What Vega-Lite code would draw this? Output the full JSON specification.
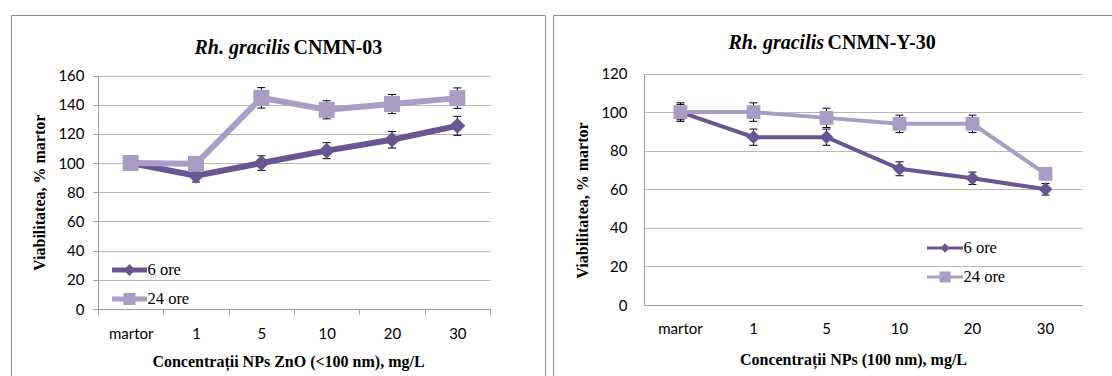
{
  "$schema": "https://vega.github.io/schema/vega-lite/v6.json",
  "background": "white",
  "padding": {"left": 10, "top": 14, "right": 0, "bottom": 0},
  "spacing": 6,
  "config": {
    "view": {"stroke": "#8d8d8d", "strokeWidth": 1},
    "axis": {"labelFont": "Lato", "labelFontSize": 15, "labelColor": "#000", "titleFont": "Liberation Serif", "titleFontSize": 16, "titleFontWeight": "bold", "titleColor": "#000", "domainColor": "#9d9d9d", "tickColor": "#9d9d9d", "gridColor": "#b9b9b9", "labelAngle": 0},
    "legend": {"labelFont": "Liberation Serif", "labelFontSize": 16.5, "labelColor": "#000", "padding": 0, "symbolOpacity": 1}
  },
  "datasets": {
    "left": [
      {"cat": "martor", "series": "6 ore", "value": 100, "lo": 95, "hi": 105},
      {"cat": "1", "series": "6 ore", "value": 91.3, "lo": 87, "hi": 96},
      {"cat": "5", "series": "6 ore", "value": 100, "lo": 95, "hi": 105},
      {"cat": "10", "series": "6 ore", "value": 108.5, "lo": 103, "hi": 114},
      {"cat": "20", "series": "6 ore", "value": 116, "lo": 110.3, "hi": 121.7},
      {"cat": "30", "series": "6 ore", "value": 125.5, "lo": 119, "hi": 132},
      {"cat": "martor", "series": "24 ore", "value": 100, "lo": 95, "hi": 105},
      {"cat": "1", "series": "24 ore", "value": 99.5, "lo": 95, "hi": 104},
      {"cat": "5", "series": "24 ore", "value": 144.7, "lo": 137.7, "hi": 151.7},
      {"cat": "10", "series": "24 ore", "value": 136.5, "lo": 130.3, "hi": 142.7},
      {"cat": "20", "series": "24 ore", "value": 140.5, "lo": 134, "hi": 147},
      {"cat": "30", "series": "24 ore", "value": 144.5, "lo": 137.5, "hi": 151.5}
    ],
    "right": [
      {"cat": "martor", "series": "6 ore", "value": 100, "lo": 96, "hi": 104},
      {"cat": "1", "series": "6 ore", "value": 87, "lo": 82.8, "hi": 91.2},
      {"cat": "5", "series": "6 ore", "value": 87, "lo": 82.8, "hi": 91.2},
      {"cat": "10", "series": "6 ore", "value": 70.6, "lo": 67, "hi": 74.2},
      {"cat": "20", "series": "6 ore", "value": 65.7, "lo": 62.5, "hi": 68.9},
      {"cat": "30", "series": "6 ore", "value": 60, "lo": 57, "hi": 63},
      {"cat": "martor", "series": "24 ore", "value": 100, "lo": 95.2, "hi": 104.8},
      {"cat": "1", "series": "24 ore", "value": 100, "lo": 95.2, "hi": 104.8},
      {"cat": "5", "series": "24 ore", "value": 97, "lo": 92, "hi": 102},
      {"cat": "10", "series": "24 ore", "value": 93.9, "lo": 89.4, "hi": 98.4},
      {"cat": "20", "series": "24 ore", "value": 93.9, "lo": 89.4, "hi": 98.4},
      {"cat": "30", "series": "24 ore", "value": 68, "lo": 65, "hi": 71}
    ]
  },
  "hconcat": [
    {
      "width": 534,
      "height": 375,
      "data": {"name": "left"},
      "encoding": {
        "x": {
          "field": "cat", "type": "nominal", "sort": ["martor", "1", "5", "10", "20", "30"], "bandPosition": 0.5,
          "scale": {"type": "band", "range": [87, 479], "paddingInner": 0, "paddingOuter": 0},
          "axis": null
        },
        "y": {
          "field": "value", "type": "quantitative",
          "scale": {"domain": [0, 160], "range": [294, 60.5], "nice": false},
          "axis": {"title": "Viabilitatea, % martor", "orient": "left", "values": [0, 20, 40, 60, 80, 100, 120, 140, 160], "offset": -87, "grid": true, "tickSize": 5, "labelPadding": 9, "titlePadding": 10}
        }
      },
      "resolve": {"scale": {"color": "independent"}, "legend": {"color": "independent"}},
      "layer": [
        {
          "mark": {"type": "rule", "color": "#000", "strokeWidth": 1},
          "encoding": {
            "x": {
              "field": "cat", "type": "nominal", "sort": ["martor", "1", "5", "10", "20", "30"], "bandPosition": 0.5,
              "scale": {"type": "band", "range": [87, 479], "paddingInner": 0, "paddingOuter": 0},
              "axis": {"orient": "bottom", "title": "Concentrații NPs ZnO (<100 nm), mg/L", "offset": -81, "tickBand": "extent", "tickSize": 5, "labelPadding": 12, "titlePadding": 12, "titleX": 277, "grid": false}
            },
            "y": {"field": "lo", "type": "quantitative", "axis": {"title": "Viabilitatea, % martor", "orient": "left", "values": [0, 20, 40, 60, 80, 100, 120, 140, 160], "offset": -87, "grid": true, "tickSize": 5, "labelPadding": 9, "titlePadding": 10}},
            "y2": {"field": "hi"}
          }
        },
        {
          "mark": {"type": "tick", "color": "#000", "size": 8, "thickness": 1, "orient": "horizontal", "opacity": 1},
          "encoding": {"y": {"field": "lo", "type": "quantitative", "axis": {"title": "Viabilitatea, % martor", "orient": "left", "values": [0, 20, 40, 60, 80, 100, 120, 140, 160], "offset": -87, "grid": true, "tickSize": 5, "labelPadding": 9, "titlePadding": 10}}}
        },
        {
          "mark": {"type": "tick", "color": "#000", "size": 8, "thickness": 1, "orient": "horizontal", "opacity": 1},
          "encoding": {"y": {"field": "hi", "type": "quantitative", "axis": {"title": "Viabilitatea, % martor", "orient": "left", "values": [0, 20, 40, 60, 80, 100, 120, 140, 160], "offset": -87, "grid": true, "tickSize": 5, "labelPadding": 9, "titlePadding": 10}}}
        },
        {
          "transform": [{"filter": "datum.series === '6 ore'"}],
          "mark": {"type": "line", "color": "#6a5593", "strokeWidth": 6},
          "encoding": {
            "x": {
              "field": "cat", "type": "nominal", "sort": ["martor", "1", "5", "10", "20", "30"], "bandPosition": 0.5,
              "scale": {"type": "band", "range": [87, 479], "paddingInner": 0, "paddingOuter": 0},
              "axis": {"orient": "top", "labels": false, "ticks": false, "domain": false, "grid": false, "minExtent": 0, "maxExtent": 0, "title": "Rh. gracilis", "titleFont": "Liberation Serif", "titleFontSize": 20, "titleFontWeight": "bold", "titleFontStyle": "italic", "titleAngle": 0, "titleAlign": "left", "titleBaseline": "alphabetic", "titleX": 183, "titleY": 38}
            }
          }
        },
        {
          "transform": [{"filter": "datum.series === '6 ore'"}],
          "mark": {"type": "point", "filled": true, "shape": "diamond", "size": 256, "opacity": 1},
          "encoding": {
            "x": {
              "field": "cat", "type": "nominal", "sort": ["martor", "1", "5", "10", "20", "30"], "bandPosition": 0.5,
              "scale": {"type": "band", "range": [87, 479], "paddingInner": 0, "paddingOuter": 0},
              "axis": {"orient": "top", "labels": false, "ticks": false, "domain": false, "grid": false, "minExtent": 0, "maxExtent": 0, "title": "CNMN-03", "titleFont": "Liberation Serif", "titleFontSize": 20, "titleFontWeight": "bold", "titleFontStyle": "normal", "titleAngle": 0, "titleAlign": "left", "titleBaseline": "alphabetic", "titleX": 282, "titleY": 38}
            },
            "color": {
              "field": "series", "type": "nominal", "scale": {"range": ["#6a5593"]},
              "legend": {"orient": "none", "legendX": 98.5, "legendY": 235, "title": null, "labelFont": "Liberation Serif", "labelFontSize": 16.5, "labelColor": "#000", "symbolType": "M-1,0H1M0,-0.14L0.14,0L0,0.14L-0.14,0Z", "symbolSize": 1225, "symbolStrokeWidth": 5, "symbolStrokeColor": "#6a5593", "symbolFillColor": "#6a5593", "labelOffset": -2}
            }
          }
        },
        {
          "transform": [{"filter": "datum.series === '24 ore'"}],
          "mark": {"type": "line", "color": "#a99cc5", "strokeWidth": 6}
        },
        {
          "transform": [{"filter": "datum.series === '24 ore'"}],
          "mark": {"type": "point", "filled": true, "shape": "square", "size": 256, "opacity": 1},
          "encoding": {
            "color": {
              "field": "series", "type": "nominal", "scale": {"range": ["#a99cc5"]},
              "legend": {"orient": "none", "legendX": 98.5, "legendY": 264, "title": null, "labelFont": "Liberation Serif", "labelFontSize": 16.5, "labelColor": "#000", "symbolType": "M-1,0H1M-0.2,-0.2H0.2V0.2H-0.2Z", "symbolSize": 1225, "symbolStrokeWidth": 5, "symbolStrokeColor": "#a99cc5", "symbolFillColor": "#a99cc5", "labelOffset": -2}
            }
          }
        }
      ]
    },
    {
      "width": 570,
      "height": 375,
      "data": {"name": "right"},
      "encoding": {
        "x": {
          "field": "cat", "type": "nominal", "sort": ["martor", "1", "5", "10", "20", "30"], "bandPosition": 0.5,
          "scale": {"type": "band", "range": [91, 529], "paddingInner": 0, "paddingOuter": 0},
          "axis": null
        },
        "y": {
          "field": "value", "type": "quantitative",
          "scale": {"domain": [0, 120], "range": [290, 58.5], "nice": false},
          "axis": {"title": "Viabilitatea, % martor", "orient": "left", "values": [0, 20, 40, 60, 80, 100, 120], "offset": -91, "grid": true, "ticks": false, "tickSize": 0, "labelPadding": 17, "titlePadding": 10, "titleY": 185}
        }
      },
      "resolve": {"scale": {"color": "independent"}, "legend": {"color": "independent"}},
      "layer": [
        {
          "mark": {"type": "rule", "color": "#000", "strokeWidth": 1},
          "encoding": {
            "x": {
              "field": "cat", "type": "nominal", "sort": ["martor", "1", "5", "10", "20", "30"], "bandPosition": 0.5,
              "scale": {"type": "band", "range": [91, 529], "paddingInner": 0, "paddingOuter": 0},
              "axis": {"orient": "bottom", "title": "Concentrații NPs (100 nm), mg/L", "offset": -85, "ticks": false, "tickSize": 0, "labelPadding": 16.5, "titlePadding": 15, "titleX": 300, "grid": false}
            },
            "y": {"field": "lo", "type": "quantitative", "axis": {"title": "Viabilitatea, % martor", "orient": "left", "values": [0, 20, 40, 60, 80, 100, 120], "offset": -91, "grid": true, "ticks": false, "tickSize": 0, "labelPadding": 17, "titlePadding": 10, "titleY": 185}},
            "y2": {"field": "hi"}
          }
        },
        {
          "mark": {"type": "tick", "color": "#000", "size": 8, "thickness": 1, "orient": "horizontal", "opacity": 1},
          "encoding": {"y": {"field": "lo", "type": "quantitative", "axis": {"title": "Viabilitatea, % martor", "orient": "left", "values": [0, 20, 40, 60, 80, 100, 120], "offset": -91, "grid": true, "ticks": false, "tickSize": 0, "labelPadding": 17, "titlePadding": 10, "titleY": 185}}}
        },
        {
          "mark": {"type": "tick", "color": "#000", "size": 8, "thickness": 1, "orient": "horizontal", "opacity": 1},
          "encoding": {"y": {"field": "hi", "type": "quantitative", "axis": {"title": "Viabilitatea, % martor", "orient": "left", "values": [0, 20, 40, 60, 80, 100, 120], "offset": -91, "grid": true, "ticks": false, "tickSize": 0, "labelPadding": 17, "titlePadding": 10, "titleY": 185}}}
        },
        {
          "transform": [{"filter": "datum.series === '6 ore'"}],
          "mark": {"type": "line", "color": "#6a5593", "strokeWidth": 4},
          "encoding": {
            "x": {
              "field": "cat", "type": "nominal", "sort": ["martor", "1", "5", "10", "20", "30"], "bandPosition": 0.5,
              "scale": {"type": "band", "range": [91, 529], "paddingInner": 0, "paddingOuter": 0},
              "axis": {"orient": "top", "labels": false, "ticks": false, "domain": false, "grid": false, "minExtent": 0, "maxExtent": 0, "title": "Rh. gracilis", "titleFont": "Liberation Serif", "titleFontSize": 20, "titleFontWeight": "bold", "titleFontStyle": "italic", "titleAngle": 0, "titleAlign": "left", "titleBaseline": "alphabetic", "titleX": 175, "titleY": 33}
            }
          }
        },
        {
          "transform": [{"filter": "datum.series === '6 ore'"}],
          "mark": {"type": "point", "filled": true, "shape": "diamond", "size": 190, "opacity": 1},
          "encoding": {
            "x": {
              "field": "cat", "type": "nominal", "sort": ["martor", "1", "5", "10", "20", "30"], "bandPosition": 0.5,
              "scale": {"type": "band", "range": [91, 529], "paddingInner": 0, "paddingOuter": 0},
              "axis": {"orient": "top", "labels": false, "ticks": false, "domain": false, "grid": false, "minExtent": 0, "maxExtent": 0, "title": "CNMN-Y-30", "titleFont": "Liberation Serif", "titleFontSize": 20, "titleFontWeight": "bold", "titleFontStyle": "normal", "titleAngle": 0, "titleAlign": "left", "titleBaseline": "alphabetic", "titleX": 274, "titleY": 33}
            },
            "color": {
              "field": "series", "type": "nominal", "scale": {"range": ["#6a5593"]},
              "legend": {"orient": "none", "legendX": 372.5, "legendY": 213.5, "title": null, "labelFont": "Liberation Serif", "labelFontSize": 16.5, "labelColor": "#000", "symbolType": "M-1,0H1M0,-0.14L0.14,0L0,0.14L-0.14,0Z", "symbolSize": 1296, "symbolStrokeWidth": 3, "symbolStrokeColor": "#6a5593", "symbolFillColor": "#6a5593", "labelOffset": -1}
            }
          }
        },
        {
          "transform": [{"filter": "datum.series === '24 ore'"}],
          "mark": {"type": "line", "color": "#a99cc5", "strokeWidth": 4}
        },
        {
          "transform": [{"filter": "datum.series === '24 ore'"}],
          "mark": {"type": "point", "filled": true, "shape": "square", "size": 190, "opacity": 1},
          "encoding": {
            "color": {
              "field": "series", "type": "nominal", "scale": {"range": ["#a99cc5"]},
              "legend": {"orient": "none", "legendX": 372.5, "legendY": 242.5, "title": null, "labelFont": "Liberation Serif", "labelFontSize": 16.5, "labelColor": "#000", "symbolType": "M-1,0H1M-0.22,-0.22H0.22V0.22H-0.22Z", "symbolSize": 1296, "symbolStrokeWidth": 3, "symbolStrokeColor": "#a99cc5", "symbolFillColor": "#a99cc5", "labelOffset": -1}
            }
          }
        }
      ]
    }
  ]
}
